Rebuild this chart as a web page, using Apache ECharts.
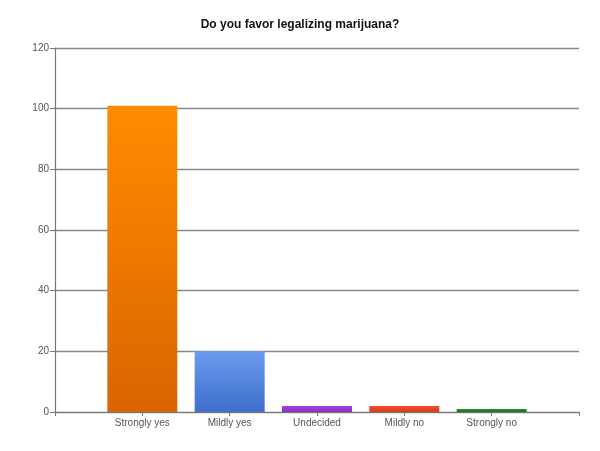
<!DOCTYPE html>
<html>
<head>
<meta charset="utf-8">
<script src="https://cdn.jsdelivr.net/npm/echarts@6/dist/echarts.min.js"></script>
<style>html,body{margin:0;padding:0;background:#fff}</style>
</head>
<body>
<div id="chart" style="width:600px;height:451px"></div>
<script>
// answers, with a blank slot at each end so the bars sit one band in from the axis ends
var categories = ["", "Strongly yes", "Mildly yes", "Undecided", "Mildly no", "Strongly no", ""];
var counts = ["-", 101, 20, 2, 2, 1, "-"];
var topColors = ["", "#ff8c00", "#6a9bef", "#a544d6", "#f2512c", "#2f8f2f", ""];
var bottomColors = ["", "#d96400", "#3e6fca", "#8a2fbf", "#d8391e", "#1f6f1f", ""];
var yTicks = {min: 0, max: 120, interval: 20};

function grad(i) {
   return new echarts.graphic.LinearGradient(0, 0, 0, 1, [
      {offset: 0, color: topColors[i]},
      {offset: 1, color: bottomColors[i]}
   ]);
}

var barData = counts.map(function (v, i) {
   if (v === "-") return "-";
   return {value: v, itemStyle: {color: grad(i)}};
});

var myChart = echarts.init(document.getElementById("chart"));
myChart.setOption({
   animation: false,
   title: {
      text: "Do you favor legalizing marijuana?",
      left: "center",
      top: 14,
      textStyle: {fontFamily: "Liberation Sans", fontSize: 12, fontWeight: "bold", color: "#111"}
   },
   grid: {left: 55, right: 21, top: 48, bottom: 39},
   xAxis: {
      type: "category",
      data: categories,
      boundaryGap: false,
      axisLine: {lineStyle: {color: "#777", width: 1.2}},
      axisTick: {show: true, length: 4, inside: false, lineStyle: {color: "#777"}},
      axisLabel: {fontFamily: "Liberation Sans", fontSize: 10, color: "#555", margin: 6, interval: 0}
   },
   yAxis: {
      type: "value",
      min: yTicks.min,
      max: yTicks.max,
      interval: yTicks.interval,
      axisLine: {show: true, lineStyle: {color: "#777", width: 1.2}},
      axisTick: {show: true, length: 5, lineStyle: {color: "#777"}},
      axisLabel: {fontFamily: "Liberation Sans", fontSize: 10, color: "#555", margin: 6},
      splitLine: {show: true, lineStyle: {color: "#888", width: 1.4}}
   },
   series: [{
      type: "bar",
      data: barData,
      barWidth: 70
   }]
});
</script>
</body>
</html>
